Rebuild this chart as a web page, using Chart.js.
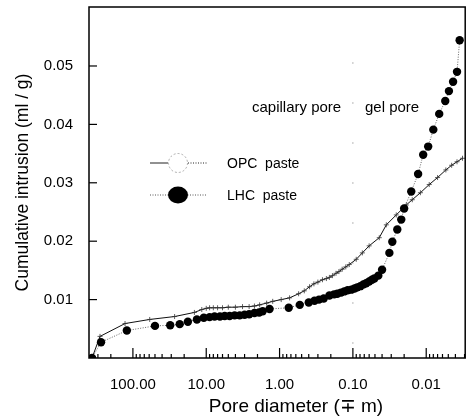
<html>
  <head>
    <script src="https://cdn.jsdelivr.net/npm/chart.js"></script>
    <style>
      body { margin: 0; background: #fff; }
      canvas { display: block; }
    </style>
  </head>
  <body>
    <canvas id="pore_chart" width="470" height="419"></canvas>
    <script>
      // Pore diameter (um) and cumulative intrusion (ml/g)
      const opcDiameter = [361, 281, 128, 59, 27, 14.5, 11.5, 10, 9, 8, 7, 6, 5, 4, 3.2, 2.6, 2.2, 1.87, 1.5, 1.24,
        0.95, 0.73, 0.55, 0.46, 0.39, 0.34, 0.30, 0.26, 0.23, 0.209, 0.19, 0.17, 0.155, 0.14, 0.125, 0.112, 0.09,
        0.0743, 0.06, 0.0437, 0.035, 0.0256, 0.0187, 0.0155, 0.012, 0.0091, 0.007, 0.0054, 0.0045, 0.0038, 0.0032];
      const opcIntrusion = [0, 0.0037, 0.0059, 0.0066, 0.0071, 0.0078, 0.0083, 0.0085, 0.0086, 0.0086, 0.0086, 0.0086,
        0.0087, 0.0087, 0.0088, 0.0088, 0.0089, 0.0091, 0.0094, 0.0097, 0.0100, 0.0103, 0.0110, 0.0115, 0.0122, 0.0127,
        0.0130, 0.0134, 0.0136, 0.0138, 0.0141, 0.0145, 0.0148, 0.0152, 0.0156, 0.0160, 0.0169, 0.0180, 0.0192, 0.0206,
        0.0228, 0.0245, 0.0262, 0.0271, 0.0283, 0.0297, 0.0309, 0.0322, 0.0330, 0.0336, 0.0342];

      const lhcDiameter = [361, 272, 121, 50, 31, 23, 17.8, 13.4, 10.8, 9.0, 7.7, 6.5, 5.6, 4.8, 4.1, 3.5, 3.0, 2.6,
        2.2, 1.9, 1.7, 1.37, 0.75, 0.53, 0.40, 0.334, 0.29, 0.25, 0.209, 0.18, 0.163, 0.145, 0.131, 0.118, 0.105, 0.095,
        0.087, 0.079, 0.072, 0.066, 0.060, 0.055, 0.051, 0.045, 0.040, 0.0318, 0.029, 0.0248, 0.0219, 0.0200, 0.016,
        0.0129, 0.011, 0.0094, 0.0080, 0.00665, 0.0055, 0.0049, 0.0043, 0.0038, 0.0035];
      const lhcIntrusion = [0, 0.0027, 0.0047, 0.0055, 0.0056, 0.0058, 0.0062, 0.0066, 0.0069, 0.0070, 0.0071, 0.0071,
        0.0072, 0.0072, 0.0073, 0.0073, 0.0074, 0.0075, 0.0077, 0.0078, 0.0080, 0.0084, 0.0086, 0.0091, 0.0095, 0.0098,
        0.0100, 0.0102, 0.0107, 0.0109, 0.0110, 0.0112, 0.0114, 0.0116, 0.0117, 0.0119, 0.0121, 0.0123, 0.0126, 0.0128,
        0.0131, 0.0134, 0.0136, 0.0141, 0.0151, 0.0180, 0.0199, 0.0220, 0.0237, 0.0256, 0.0285, 0.0315, 0.0348, 0.0362,
        0.0391, 0.0418, 0.0440, 0.0457, 0.0473, 0.0490, 0.0544];

      // Tick labels
      const xTicks = [100, 10, 1, 0.1, 0.01];
      const yTicks = [0.01, 0.02, 0.03, 0.04, 0.05];

      const FONT = "'Liberation Sans', Arial, sans-serif";
      Chart.defaults.font.family = FONT;
      Chart.defaults.color = "#000";

      const toPoints = (xs, ys) => xs.map((v, i) => ({ x: v, y: ys[i] }));

      function line(ctx, x1, y1, x2, y2) {
        ctx.beginPath();
        ctx.moveTo(x1, y1);
        ctx.lineTo(x2, y2);
        ctx.stroke();
      }

      // Frame, inward ticks, legend, notes and x title
      const decorations = {
        id: "decorations",
        beforeDatasetsDraw(chart) {
          const { ctx, chartArea: a, scales: { x } } = chart;
          // faint divider between capillary and gel pores
          const px = x.getPixelForValue(0.1);
          ctx.save();
          ctx.strokeStyle = "#bbb";
          ctx.lineWidth = 1;
          ctx.setLineDash([2, 38]);
          line(ctx, px, 62, px, a.bottom);
          ctx.restore();
        },
        afterDraw(chart) {
          const { ctx, chartArea: a, scales: { x, y } } = chart;
          ctx.save();
          ctx.strokeStyle = "#000";
          ctx.lineWidth = 1.5;
          ctx.strokeRect(a.left, a.top, a.right - a.left, a.bottom - a.top);

          ctx.lineWidth = 1.2;
          yTicks.forEach((v) => {
            const py = y.getPixelForValue(v);
            line(ctx, a.left, py, a.left + 8, py);
          });
          for (let e = -3; e <= 3; e++) {
            for (let m = 1; m < 10; m++) {
              const v = m * Math.pow(10, e);
              if (v < x.min || v > x.max) continue;
              const px = x.getPixelForValue(v);
              line(ctx, px, a.bottom, px, a.bottom - (m === 1 ? 10 : 4));
            }
          }

          // legend
          ctx.lineWidth = 1;
          ctx.strokeStyle = "#222";
          line(ctx, 150, 163, 168, 163);
          ctx.setLineDash([1, 1.5]);
          line(ctx, 188, 163, 207, 163);
          ctx.strokeStyle = "#999";
          ctx.lineWidth = 0.8;
          ctx.setLineDash([2, 2]);
          ctx.beginPath();
          ctx.arc(178, 163, 9.5, 0, Math.PI * 2);
          ctx.stroke();
          ctx.strokeStyle = "#555";
          ctx.lineWidth = 1;
          ctx.setLineDash([1, 1.5]);
          line(ctx, 150, 195, 207, 195);
          ctx.setLineDash([]);
          ctx.fillStyle = "#000";
          ctx.beginPath();
          ctx.ellipse(178, 195, 10, 8.5, 0, 0, Math.PI * 2);
          ctx.fill();

          ctx.fillStyle = "#000";
          ctx.textBaseline = "middle";
          ctx.textAlign = "left";
          ctx.font = "14px " + FONT;
          ctx.fillText("OPC  paste", 227, 164);
          ctx.fillText("LHC  paste", 227, 196);

          ctx.font = "15px " + FONT;
          ctx.fillText("capillary pore", 252, 108);
          ctx.fillText("gel pore", 365, 108);

          ctx.textAlign = "center";
          ctx.font = "19px " + FONT;
          ctx.fillText("Pore diameter (\u2213 m)", 296, 407);
          ctx.restore();
        },
      };

      const pore_chart = new Chart("pore_chart", {
        type: "scatter",
        data: {
          datasets: [
            {
              label: "LHC paste",
              data: toPoints(lhcDiameter, lhcIntrusion),
              showLine: true,
              borderColor: "#555",
              borderWidth: 0.9,
              borderDash: [1, 1.5],
              pointStyle: "circle",
              pointRadius: 4.2,
              pointBackgroundColor: "#000",
              pointBorderColor: "#000",
              pointBorderWidth: 0,
            },
            {
              label: "OPC paste",
              data: toPoints(opcDiameter, opcIntrusion),
              showLine: true,
              borderColor: "#111",
              borderWidth: 1,
              pointStyle: "cross",
              pointRadius: 2.5,
              pointBorderColor: "#333",
              pointBorderWidth: 0.8,
            },
          ],
        },
        plugins: [decorations],
        options: {
          responsive: false,
          animation: false,
          layout: { padding: { left: 0, right: 4, top: 7, bottom: 0 } },
          plugins: {
            legend: { display: false },
            tooltip: { enabled: false },
          },
          scales: {
            x: {
              type: "logarithmic",
              reverse: true,
              min: 0.00294,
              max: 397,
              grid: { display: false },
              border: { display: false },
              afterBuildTicks: (scale) => {
                scale.ticks = xTicks.map((v) => ({ value: v }));
              },
              afterFit: (scale) => {
                scale.height = 61;
                scale.paddingLeft = 0;
                scale.paddingRight = 0;
              },
              ticks: {
                autoSkip: false,
                maxRotation: 0,
                padding: 10,
                font: { size: 15 },
                callback: (v) => Number(v).toFixed(2),
              },
            },
            y: {
              min: 0,
              max: 0.0601,
              grid: { display: false },
              border: { display: false },
              afterBuildTicks: (scale) => {
                scale.ticks = yTicks.map((v) => ({ value: v }));
              },
              afterFit: (scale) => {
                scale.width = 89;
                scale.paddingTop = 0;
                scale.paddingBottom = 0;
              },
              ticks: {
                padding: 8,
                font: { size: 15 },
                callback: (v) => Number(v).toFixed(2),
              },
              title: {
                display: true,
                text: "Cumulative intrusion (ml / g)",
                font: { size: 17.5 },
                padding: { top: 13, bottom: 0 },
              },
            },
          },
        },
      });
    </script>
  </body>
</html>
